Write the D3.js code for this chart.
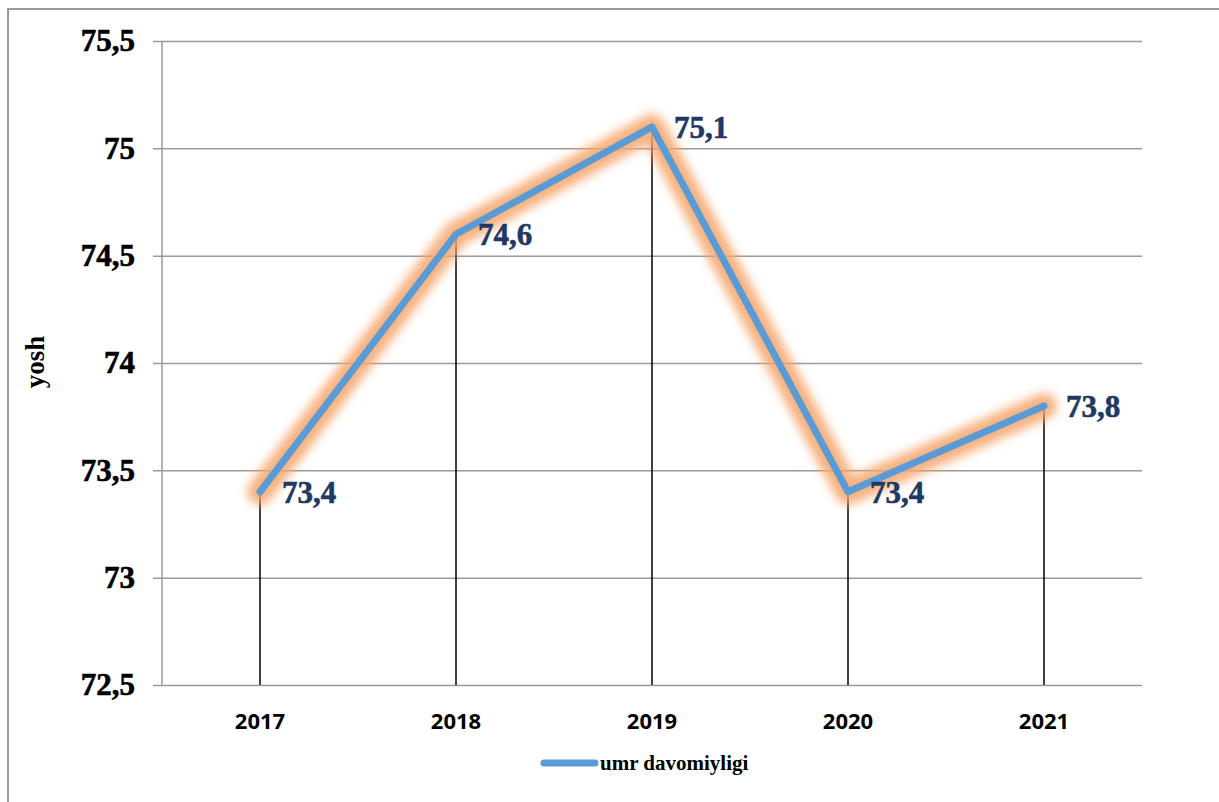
<!DOCTYPE html>
<html>
<head>
<meta charset="utf-8">
<script src="https://cdnjs.cloudflare.com/ajax/libs/d3/7.8.5/d3.min.js"></script>
<style>
  body { margin: 0; background: #fff; }
</style>
</head>
<body>
<svg width="1219" height="802"></svg>
<script>
// data
var years = ["2017", "2018", "2019", "2020", "2021"];
var values = [73.4, 74.6, 75.1, 73.4, 73.8];
var valueLabels = ["73,4", "74,6", "75,1", "73,4", "73,8"];
var yTicks = [72.5, 73, 73.5, 74, 74.5, 75, 75.5];
var yTickLabels = ["72,5", "73", "73,5", "74", "74,5", "75", "75,5"];
var seriesName = "umr davomiyligi";
var yTitle = "yosh";

var svg = d3.select("svg");
// plot box (window.top is reserved, hence the prefixes)
var plotLeft = 162, plotRight = 1142, plotTop = 41, plotBottom = 685;
var serif = "'Liberation Serif', 'Times New Roman', serif";

var x = d3.scaleBand().domain(years).range([plotLeft, plotRight]);
var y = d3.scaleLinear().domain([72.5, 75.5]).range([plotBottom, plotTop]);

// outer border
svg.append("rect")
  .attr("x", 8).attr("y", 9).attr("width", 1230).attr("height", 820)
  .attr("fill", "none").attr("stroke", "#9a9a9a").attr("stroke-width", 2);

// gridlines + y axis
var yAxis = d3.axisLeft(y)
  .tickValues(yTicks)
  .tickSize(-(plotRight - plotLeft))
  .tickPadding(27)
  .tickFormat(function (d, i) { return yTickLabels[i]; });

var gy = svg.append("g").attr("transform", "translate(" + plotLeft + ",0)").call(yAxis);
gy.select(".domain").remove();
gy.selectAll(".tick line")
  .attr("x1", -9)
  .attr("stroke", "#9a9a9a").attr("stroke-width", 1.5);
gy.selectAll(".tick text")
  .style("font-family", serif)
  .style("font-weight", "bold")
  .style("font-size", "31px")
  .attr("fill", "#000")
  .attr("stroke", "#000").attr("stroke-width", 0.6);

svg.append("line")
  .attr("x1", plotLeft).attr("x2", plotLeft).attr("y1", plotTop).attr("y2", plotBottom)
  .attr("stroke", "#9a9a9a").attr("stroke-width", 1.5);

// x axis labels
var xAxis = d3.axisBottom(x).tickSize(0).tickPadding(28);
var gx = svg.append("g").attr("transform", "translate(0," + plotBottom + ")").call(xAxis);
gx.select(".domain").remove();
gx.selectAll(".tick text")
  .style("font-family", "'Open Sans', 'Liberation Sans', sans-serif")
  .style("font-weight", "bold")
  .style("font-size", "22px")
  .attr("fill", "#000");

var pts = years.map(function (d, i) { return [x(d) + x.bandwidth() / 2, y(values[i])]; });

// drop lines
svg.append("g").selectAll("line")
  .data(pts)
  .enter().append("line")
  .attr("x1", function (d) { return d[0]; })
  .attr("x2", function (d) { return d[0]; })
  .attr("y1", function (d) { return d[1]; })
  .attr("y2", plotBottom)
  .attr("stroke", "#000").attr("stroke-width", 1.5);

// glow filter
var defs = svg.append("defs");
defs.append("filter").attr("id", "glow")
  .attr("x", "-10%").attr("y", "-10%").attr("width", "120%").attr("height", "120%")
  .append("feGaussianBlur").attr("stdDeviation", 5);

var line = d3.line();

svg.append("path")
  .datum(pts)
  .attr("d", line)
  .attr("fill", "none")
  .attr("stroke", "#f6a66c")
  .attr("stroke-width", 26)
  .attr("stroke-linejoin", "round")
  .attr("stroke-linecap", "round")
  .attr("opacity", 0.85)
  .attr("filter", "url(#glow)");

svg.append("path")
  .datum(pts)
  .attr("d", line)
  .attr("fill", "none")
  .attr("stroke", "#5b9bd5")
  .attr("stroke-width", 7)
  .attr("stroke-linejoin", "round")
  .attr("stroke-linecap", "round");

// value labels
svg.append("g").selectAll("text")
  .data(pts)
  .enter().append("text")
  .attr("x", function (d) { return d[0] + 22; })
  .attr("y", function (d) { return d[1] + 11; })
  .style("font-family", serif)
  .style("font-weight", "bold")
  .style("font-size", "31px")
  .attr("fill", "#1f3864")
  .attr("stroke", "#1f3864").attr("stroke-width", 0.6)
  .text(function (d, i) { return valueLabels[i]; });

// y title
svg.append("text")
  .attr("transform", "translate(44,362)rotate(-90)")
  .attr("text-anchor", "middle")
  .style("font-family", serif)
  .style("font-weight", "bold")
  .style("font-size", "27px")
  .text(yTitle);

// legend
svg.append("line")
  .attr("x1", 544).attr("x2", 595).attr("y1", 763).attr("y2", 763)
  .attr("stroke", "#5b9bd5").attr("stroke-width", 7).attr("stroke-linecap", "round");
svg.append("text")
  .attr("x", 600).attr("y", 770)
  .style("font-family", serif)
  .style("font-weight", "bold")
  .style("font-size", "21px")
  .text(seriesName);
</script>
</body>
</html>
